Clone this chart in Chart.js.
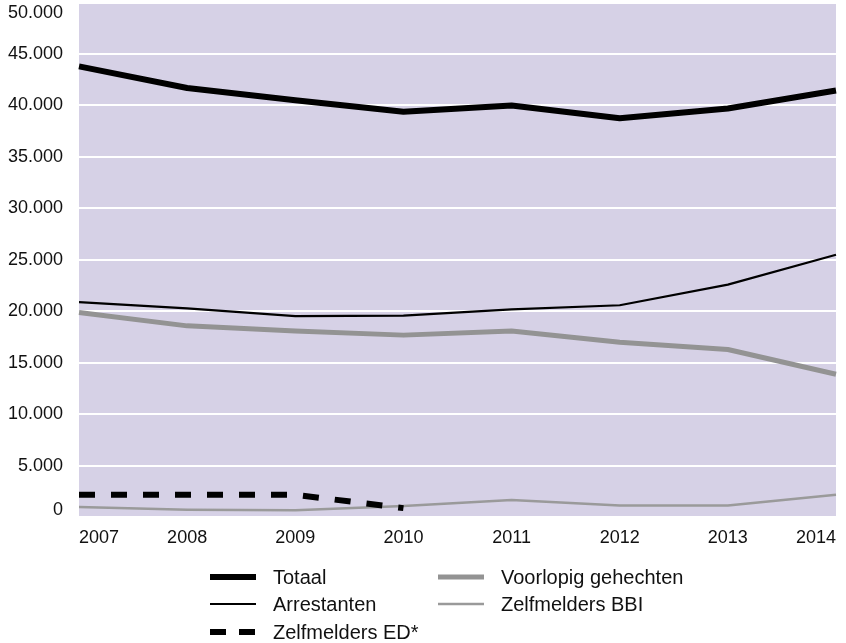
<!DOCTYPE html>
<html>
<head>
<meta charset="utf-8">
<script src="https://cdn.jsdelivr.net/npm/chart.js@4/dist/chart.umd.min.js"></script>
<style>
  html, body { margin: 0; padding: 0; background: #fff; }
</style>
</head>
<body>
<canvas id="grafiek" width="846" height="643"></canvas>
<script>
// jaren en reeksen
const jaren = ['2007', '2008', '2009', '2010', '2011', '2012', '2013', '2014'];
const totaal = [43800, 41700, 40500, 39400, 40000, 38750, 39700, 41450];
const arrestanten = [20900, 20300, 19550, 19600, 20200, 20600, 22600, 25500];
const zelfmeldersED = [2200, 2200, 2200, 900, null, null, null, null];
const voorlopig = [19900, 18600, 18100, 17700, 18100, 17000, 16300, 13900];
const zelfmeldersBBI = [1000, 750, 700, 1100, 1700, 1150, 1150, 2200];

const yMax = 50000;
const yStap = 5000;

const lettertype = '"Liberation Sans", Arial, sans-serif';

// punt als duizendtal-scheiding
function formatGetal(v) {
  return String(v).replace(/\B(?=(\d{3})+(?!\d))/g, '.');
}

// paarse achtergrond van het plotvlak
const plotAchtergrond = {
  id: 'plotAchtergrond',
  beforeDraw(chart) {
    const { ctx, chartArea: a } = chart;
    ctx.save();
    ctx.fillStyle = '#d6d1e6';
    ctx.fillRect(a.left, a.top, a.right - a.left, a.bottom - a.top);
    ctx.restore();

    // bovenste en onderste label binnen het vlak houden
    const items = chart.scales.y.getLabelItems(a);
    items.forEach(it => {
      const t = it.options.translation;
      t[1] = Math.min(Math.max(t[1], a.top + 11), a.bottom - 7);
    });
  }
};

// legenda in twee kolommen
const kolomLegenda = {
  id: 'kolomLegenda',
  afterDraw(chart) {
    const ctx = chart.ctx;
    const kolommen = [210, 438];
    const rijen = [577, 604, 632];
    ctx.save();
    ctx.font = '20px ' + lettertype;
    ctx.textBaseline = 'middle';
    ctx.fillStyle = '#111';
    chart.data.datasets.forEach((ds, i) => {
      const x = kolommen[Math.floor(i / 3)];
      const y = rijen[i % 3];
      ctx.beginPath();
      ctx.strokeStyle = ds.borderColor;
      ctx.lineWidth = ds.borderWidth;
      ctx.setLineDash(ds.borderDash ? [16, 13] : []);
      ctx.moveTo(x, y);
      ctx.lineTo(x + 46, y);
      ctx.stroke();
      ctx.fillText(ds.label, x + 63, y + 1);
    });
    ctx.restore();
  }
};

const ctx = document.getElementById('grafiek').getContext('2d');
new Chart(ctx, {
  type: 'line',
  data: {
    labels: jaren,
    datasets: [
      { label: 'Totaal', data: totaal, borderColor: '#000', borderWidth: 6 },
      { label: 'Arrestanten', data: arrestanten, borderColor: '#000', borderWidth: 2.2 },
      { label: 'Zelfmelders ED*', data: zelfmeldersED, borderColor: '#000', borderWidth: 6, borderDash: [16, 16] },
      { label: 'Voorlopig gehechten', data: voorlopig, borderColor: '#939393', borderWidth: 5 },
      { label: 'Zelfmelders BBI', data: zelfmeldersBBI, borderColor: '#9a9a9a', borderWidth: 2.5 }
    ]
  },
  options: {
    responsive: false,
    animation: false,
    spanGaps: false,
    elements: {
      point: { radius: 0, hoverRadius: 0 },
      line: { tension: 0, borderCapStyle: 'butt', borderJoinStyle: 'round' }
    },
    layout: {
      padding: { top: 2.5, right: 10, bottom: 92, left: 0 }
    },
    plugins: {
      legend: { display: false },
      tooltip: { enabled: false }
    },
    scales: {
      x: {
        offset: false,
        grid: { display: false },
        border: { display: false },
        ticks: {
          align: 'inner',
          padding: 2,
          maxRotation: 0,
          autoSkip: false,
          color: '#111',
          font: { family: lettertype, size: 18 }
        }
      },
      y: {
        min: 0,
        max: yMax,
        border: { display: false },
        grid: { color: '#fff', lineWidth: 2, drawTicks: false },
        ticks: {
          stepSize: yStap,
          padding: 16,
          color: '#111',
          font: { family: lettertype, size: 18 },
          callback: v => formatGetal(v)
        },
        afterFit(scale) {
          scale.width = 79;
          scale.paddingTop = 0;
          scale.paddingBottom = 0;
        }
      }
    }
  },
  plugins: [plotAchtergrond, kolomLegenda]
});
</script>
</body>
</html>
